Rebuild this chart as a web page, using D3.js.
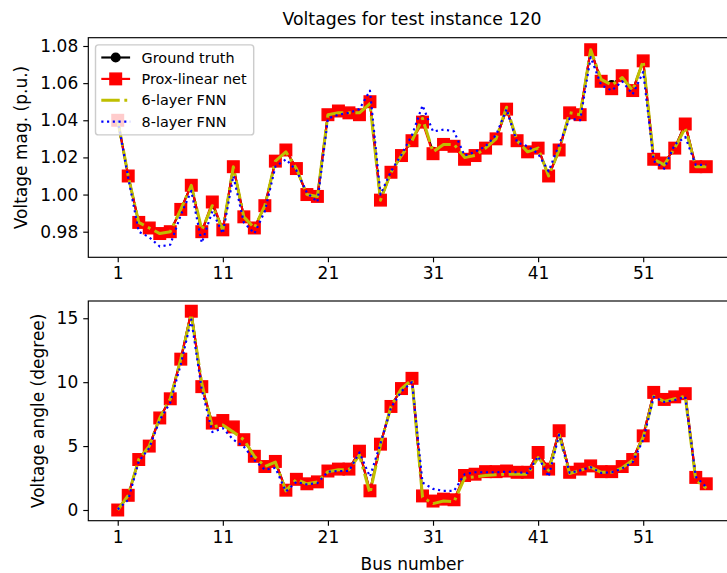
<!DOCTYPE html>
<html><head><meta charset="utf-8">
<script src="https://cdn.jsdelivr.net/npm/d3@7"></script>
<style>body{margin:0;background:#fff}svg{display:block}text{font-family:"DejaVu Sans",sans-serif;fill:#000}</style>
</head><body>
<script>
const buses = d3.range(1, 58);
const xTicks = [1, 11, 21, 31, 41, 51];
const magTicks = [0.98, 1.00, 1.02, 1.04, 1.06, 1.08];
const angTicks = [0, 5, 10, 15];
const seriesNames = ["Ground truth", "Prox-linear net", "6-layer FNN", "8-layer FNN"];

const magProx = [1.040,1.010,0.985,0.982,0.979,0.980,0.992,1.005,0.980,0.996,0.981,1.015,0.988,0.982,0.994,1.018,1.024,1.014,1.000,0.999,
 1.043,1.045,1.044,1.043,1.050,0.997,1.012,1.021,1.029,1.039,1.022,1.027,1.026,1.019,1.021,1.025,1.030,1.046,1.029,1.023,
 1.025,1.010,1.024,1.044,1.043,1.078,1.061,1.057,1.064,1.056,1.072,1.019,1.017,1.025,1.038,1.015,1.015];
const magTrue = [1.040,1.010,0.985,0.982,0.979,0.980,0.992,1.005,0.980,0.995,0.981,1.015,0.988,0.982,0.994,1.018,1.024,1.014,1.000,0.999,
 1.043,1.045,1.044,1.043,1.050,0.997,1.012,1.021,1.029,1.040,1.023,1.027,1.026,1.019,1.021,1.025,1.030,1.046,1.029,1.023,
 1.025,1.010,1.024,1.044,1.043,1.078,1.061,1.059,1.064,1.056,1.072,1.019,1.017,1.025,1.038,1.015,1.015];
const mag6 = [1.040,1.010,0.985,0.982,0.979,0.980,0.992,1.005,0.981,0.994,0.981,1.015,0.988,0.982,0.994,1.018,1.023,1.014,1.000,0.999,
 1.043,1.044,1.044,1.044,1.049,0.997,1.012,1.021,1.029,1.041,1.023,1.027,1.027,1.020,1.021,1.025,1.030,1.047,1.029,1.023,
 1.025,1.010,1.024,1.044,1.043,1.078,1.062,1.059,1.063,1.056,1.072,1.019,1.016,1.025,1.036,1.015,1.015];
const mag8 = [1.040,1.009,0.980,0.977,0.972,0.973,0.989,1.002,0.974,0.991,0.979,1.010,0.985,0.979,0.991,1.015,1.019,1.013,1.001,0.996,
 1.041,1.043,1.044,1.046,1.056,1.000,1.0125,1.0215,1.032,1.048,1.034,1.035,1.034,1.021,1.023,1.026,1.032,1.046,1.028,1.026,
 1.022,1.0125,1.027,1.041,1.040,1.074,1.059,1.056,1.061,1.054,1.066,1.018,1.014,1.027,1.031,1.016,1.016];

const angProx = [0.0,1.15,3.95,5.0,7.2,8.7,11.8,15.55,9.65,6.8,7.0,6.5,5.5,4.2,3.4,3.8,1.55,2.4,2.05,2.2,
 3.05,3.2,3.2,4.6,1.5,5.15,8.1,9.5,10.3,1.1,0.7,0.85,0.8,2.7,2.8,3.0,3.0,3.05,2.95,2.95,
 4.5,3.2,6.2,2.95,3.2,3.45,3.0,3.0,3.4,3.95,5.8,9.2,8.65,8.85,9.1,2.55,2.05];
const angTrue = [0.0,1.15,3.95,5.0,7.2,8.7,11.8,15.5,9.7,6.75,7.0,6.4,5.5,4.2,3.4,3.8,1.55,2.4,2.05,2.2,
 3.05,3.2,3.2,4.55,1.45,5.15,8.1,9.5,10.3,1.05,0.65,0.8,0.75,2.65,2.8,2.95,3.0,3.0,2.95,2.95,
 4.45,3.2,6.15,2.95,3.2,3.45,3.0,3.0,3.4,3.95,5.8,9.15,8.65,8.85,9.05,2.5,2.0];
const ang6 = [0.0,1.15,3.95,5.0,7.2,8.7,11.8,15.3,9.9,6.5,6.65,6.1,5.5,4.2,3.4,3.75,1.5,2.4,2.05,2.2,
 3.0,3.15,3.15,4.3,1.3,5.1,8.1,9.5,10.2,1.0,0.5,0.7,0.65,2.5,2.6,2.7,2.75,2.8,2.8,2.8,
 4.1,3.1,5.9,2.85,3.1,3.35,2.95,2.95,3.3,3.9,5.7,8.9,8.5,8.7,8.9,2.35,1.7];
const ang8 = [0.05,0.8,3.8,4.85,7.05,8.4,11.4,14.9,9.4,6.1,6.4,5.5,4.95,3.9,3.15,3.3,1.45,2.2,2.0,2.1,
 3.0,3.05,3.05,4.5,2.6,5.2,8.0,9.3,10.0,2.15,1.65,1.5,1.5,2.8,2.95,2.95,2.95,3.0,2.95,2.9,
 4.2,2.6,5.9,2.9,3.1,3.35,2.9,2.95,3.25,3.75,5.5,8.85,8.45,8.6,8.85,2.6,1.8];

const W = 727, H = 573;
const PT = 1.44;
const svg = d3.select("body").append("svg").attr("width", W).attr("height", H);
const left = 88.3, right = 735.7;
const x = d3.scaleLinear().domain([-1.8, 59.8]).range([left, right]);

const styles = [
  {color: "#000000", width: 1.5*PT, dash: null, marker: "circle"},
  {color: "#ff0000", width: 1.5*PT, dash: null, marker: "square"},
  {color: "#bfbf00", width: 2.1*PT, dash: [6.4,1.6,1,1.6].map(d => d*2*PT).join(","), marker: null},
  {color: "#0000ff", width: 1.5*PT, dash: [1,1.65].map(d => d*1.5*PT).join(","), marker: null}
];

function drawMarker(g, type, cx, cy, color) {
  if (type === "circle") {
    g.append("circle").attr("cx", cx).attr("cy", cy).attr("r", 3*PT)
      .attr("fill", color).attr("stroke", color).attr("stroke-width", PT);
  } else if (type === "square") {
    const s = 8*PT;
    g.append("rect").attr("x", cx - s/2).attr("y", cy - s/2).attr("width", s).attr("height", s)
      .attr("fill", color).attr("stroke", color).attr("stroke-width", PT);
  }
}

function panel(id, top, bottom, domain, ticks, fmt, seriesList, ylabel, ylabelX, xlabel) {
  const y = d3.scaleLinear().domain(domain).range([bottom, top]);
  svg.append("clipPath").attr("id", id)
    .append("rect").attr("x", left).attr("y", top).attr("width", right-left).attr("height", bottom-top);
  const g = svg.append("g").attr("clip-path", `url(#${id})`);
  const line = d3.line().x((d,i) => x(buses[i])).y(d => y(d));
  seriesList.forEach((vals, k) => {
    const st = styles[k];
    const p = g.append("path").attr("d", line(vals)).attr("fill", "none")
      .attr("stroke", st.color).attr("stroke-width", st.width).attr("stroke-linejoin", "round");
    if (st.dash) p.attr("stroke-dasharray", st.dash);
    if (st.marker) vals.forEach((v, i) => drawMarker(g, st.marker, x(buses[i]), y(v), st.color));
  });
  svg.append("rect").attr("x", left).attr("y", top).attr("width", right-left).attr("height", bottom-top)
    .attr("fill", "none").attr("stroke", "#000").attr("stroke-width", 0.8*PT);
  const xa = svg.append("g").attr("transform", `translate(0,${bottom})`)
    .call(d3.axisBottom(x).tickValues(xTicks).tickFormat(d3.format("d")).tickSize(3.5*PT).tickPadding(3.5*PT));
  const ya = svg.append("g").attr("transform", `translate(${left},0)`)
    .call(d3.axisLeft(y).tickValues(ticks).tickFormat(fmt).tickSize(3.5*PT).tickPadding(3.5*PT));
  [xa, ya].forEach(a => {
    a.select(".domain").remove();
    a.selectAll(".tick line").attr("stroke", "#000").attr("stroke-width", 0.8*PT);
    a.selectAll(".tick text").attr("font-size", 17).attr("font-family", "DejaVu Sans").attr("fill", "#000");
  });
  svg.append("text").attr("transform", `translate(${ylabelX},${(top+bottom)/2}) rotate(-90)`)
    .attr("text-anchor", "middle").attr("dominant-baseline", "central").attr("font-size", 17).text(ylabel);
  if (xlabel) {
    svg.append("text").attr("x", (left+right)/2).attr("y", 570).attr("text-anchor", "middle")
      .attr("font-size", 17).text(xlabel);
  }
  return y;
}

panel("c1", 37.7, 257.3, [0.96621, 1.08447], magTicks, d3.format(".2f"),
  [magTrue, magProx, mag6, mag8], "Voltage mag. (p.u.)", 21, null);
svg.append("text").attr("x", (left+right)/2).attr("y", 25).attr("text-anchor", "middle")
  .attr("font-size", 17.3).text("Voltages for test instance 120");
panel("c2", 301, 520.7, [-0.837, 16.35], angTicks, d3.format("d"),
  [angTrue, angProx, ang6, ang8], "Voltage angle (degree)", 38, "Bus number");

const fs = 14.4;
const lg = svg.append("g");
const lx = 95.5, ly = 44.9, lw = 158.2, lh = 90;
lg.append("rect").attr("x", lx).attr("y", ly).attr("width", lw).attr("height", lh).attr("rx", 3)
  .attr("fill", "rgba(255,255,255,0.8)").attr("stroke", "#cccccc").attr("stroke-width", PT);
seriesNames.forEach((name, k) => {
  const cy = 57.5 + k*21.4;
  const st = styles[k];
  const x0 = lx + 5.8, x1 = x0 + 28.8;
  const l = lg.append("line").attr("x1", x0).attr("x2", x1).attr("y1", cy).attr("y2", cy)
    .attr("stroke", st.color).attr("stroke-width", st.width);
  if (st.dash) l.attr("stroke-dasharray", st.dash);
  if (st.marker) drawMarker(lg, st.marker, (x0+x1)/2, cy, st.color);
  lg.append("text").attr("x", x1 + 11.5).attr("y", cy).attr("dominant-baseline", "central")
    .attr("font-size", fs).text(name);
});
</script>
</body></html>
